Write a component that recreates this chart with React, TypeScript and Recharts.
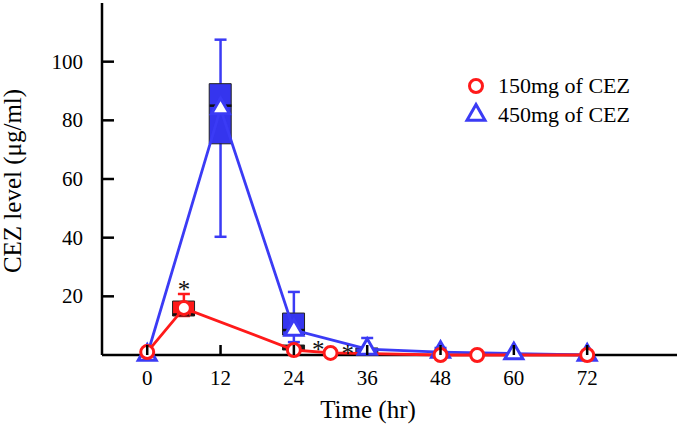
import {
  ComposedChart,
  Line,
  Bar,
  Cell,
  Scatter,
  ErrorBar,
  XAxis,
  YAxis,
  Legend,
  Symbols,
} from "recharts";

// 150mg of CEZ (red)
const redTimes = [0, 6, 24, 30, 48, 54, 72];
const redMean = [1, 16, 1.7, 0.7, 0, 0, 0];
const redBoxTimes = [6, 24];
const redBoxLow = [13.3, 1.7];
const redBoxHigh = [18.4, 3.4];
const redWhiskerTimes = [6];
const redWhiskerLow = [13.3];
const redWhiskerHigh = [20.8];
const redMedianTimes = [6];
const redMedian = [13.8];

// 450mg of CEZ (blue)
const blueTimes = [0, 12, 24, 36, 48, 60, 72];
const blueMean = [0, 84, 8.5, 2, 1, 0.5, 0];
const blueBoxTimes = [12, 24, 36];
const blueBoxLow = [72, 6.8, 0.7];
const blueBoxHigh = [92.5, 14.3, 2.4];
const blueWhiskerTimes = [12, 24, 36, 48];
const blueWhiskerLow = [40.3, 4.4, 0.7, 1];
const blueWhiskerHigh = [107.5, 21.5, 5.8, 2.4];
const blueMedianTimes = [12, 24];
const blueMedian = [85, 8.5];

// significance marks
const starTimes = [6, 28, 32.8];
const starValues = [24, 3.4, 2];

const xTicks = [0, 12, 24, 36, 48, 60, 72];
const yTicks = [20, 40, 60, 80, 100];
const seriesNames = ["150mg of CEZ", "450mg of CEZ"];

const RED = "#ff1a1a";
const BLUE = "#3b3bf5";
const BOX_BLUE = "#3535ee";
const FONT = "'Liberation Serif', 'Times New Roman', serif";
const xDomain = [-7.4, 86.7];

const allTimes = Array.from(new Set([...redTimes, ...blueTimes])).sort(
  (a, b) => a - b
);

const rows = allTimes.map((t) => {
  const ri = redTimes.indexOf(t);
  const bi = blueTimes.indexOf(t);
  const rb = redBoxTimes.indexOf(t);
  const bb = blueBoxTimes.indexOf(t);
  const rw = redWhiskerTimes.indexOf(t);
  const bw = blueWhiskerTimes.indexOf(t);
  const red = ri >= 0 ? redMean[ri] : null;
  const blue = bi >= 0 ? blueMean[bi] : null;
  return {
    t,
    red,
    blue,
    redBox: rb >= 0 ? [redBoxLow[rb], redBoxHigh[rb]] : undefined,
    blueBox: bb >= 0 ? [blueBoxLow[bb], blueBoxHigh[bb]] : undefined,
    redErr:
      rw >= 0 && red != null
        ? [red - redWhiskerLow[rw], redWhiskerHigh[rw] - red]
        : undefined,
    blueErr:
      bw >= 0 && blue != null
        ? [blue - blueWhiskerLow[bw], blueWhiskerHigh[bw] - blue]
        : undefined,
  };
});

const redMedianData = redMedianTimes.map((t, i) => ({ t, v: redMedian[i] }));
const blueMedianData = blueMedianTimes.map((t, i) => ({ t, v: blueMedian[i] }));
const starData = starTimes.map((t, i) => ({ t, v: starValues[i] }));

const RedDot = (p: any) => {
  if (p.cy == null || p.value == null) return <g key={p.key ?? p.index} />;
  return (
    <circle
      key={p.key ?? p.index}
      cx={p.cx}
      cy={p.cy}
      r={6.5}
      fill="#fff"
      stroke={RED}
      strokeWidth={3}
    />
  );
};

const BlueDot = (p: any) => {
  if (p.cy == null || p.value == null) return <g key={p.key ?? p.index} />;
  return (
    <Symbols
      key={p.key ?? p.index}
      cx={p.cx}
      cy={p.cy}
      type="triangle"
      size={140}
      fill="#fff"
      stroke={BLUE}
      strokeWidth={3}
    />
  );
};

const medianShape = (dashed: boolean) => (p: any) =>
  (
    <line
      x1={p.cx - 11}
      x2={p.cx + 11}
      y1={p.cy}
      y2={p.cy}
      stroke="#111"
      strokeWidth={2.5}
      strokeDasharray={dashed ? "4 2" : undefined}
    />
  );

const starShape = (p: any) => (
  <text
    x={p.cx}
    y={p.cy + 13}
    textAnchor="middle"
    fontSize={25}
    fontFamily={FONT}
    fill="#111"
  >
    *
  </text>
);

const XTick = (p: any) => (
  <g>
    <line x1={p.x} y1={p.y} x2={p.x} y2={p.y - 10} stroke="#000" strokeWidth={2.5} />
    <text
      x={p.x}
      y={p.y + 30}
      textAnchor="middle"
      fontSize={21}
      fontFamily={FONT}
      fill="#000"
    >
      {p.payload.value}
    </text>
  </g>
);

const YTick = (p: any) => (
  <g>
    <line x1={p.x} y1={p.y} x2={p.x + 12} y2={p.y} stroke="#000" strokeWidth={2.5} />
    <text
      x={p.x - 19}
      y={p.y + 7}
      textAnchor="end"
      fontSize={21}
      fontFamily={FONT}
      fill="#000"
    >
      {p.payload.value}
    </text>
  </g>
);

const LegendBox = () => (
  <svg width={200} height={60} style={{ display: "block" }}>
    <circle cx={14} cy={14} r={6.5} fill="#fff" stroke={RED} strokeWidth={3} />
    <text x={36} y={21} fontSize={22} fontFamily={FONT} fill="#000">
      {seriesNames[0]}
    </text>
    <Symbols
      cx={14}
      cy={43}
      type="triangle"
      size={140}
      fill="#fff"
      stroke={BLUE}
      strokeWidth={3}
    />
    <text x={36} y={50} fontSize={22} fontFamily={FONT} fill="#000">
      {seriesNames[1]}
    </text>
  </svg>
);

export default function App() {
  return (
    <div style={{ position: "absolute", left: 0, top: 0, background: "#fff" }}>
      <ComposedChart
        width={677}
        height={434}
        data={rows}
        margin={{ top: 3, right: 0, bottom: 0, left: 0 }}
      >
        <XAxis
          dataKey="t"
          type="number"
          domain={xDomain}
          ticks={xTicks}
          interval={0}
          allowDataOverflow
          height={79}
          axisLine={{ stroke: "#000", strokeWidth: 2.5 }}
          tickLine={false}
          tickSize={0}
          tickMargin={0}
          tick={XTick}
          label={{
            content: (props: any) => {
              const vb = props.viewBox;
              return (
                <text
                  x={368}
                  y={vb.y + 63}
                  textAnchor="middle"
                  fontSize={25}
                  fontFamily={FONT}
                  fill="#000"
                >
                  Time (hr)
                </text>
              );
            },
          }}
        />
        <XAxis xAxisId="bb" dataKey="t" type="number" domain={xDomain} allowDataOverflow hide />
        <XAxis xAxisId="rb" dataKey="t" type="number" domain={xDomain} allowDataOverflow hide />
        <YAxis
          type="number"
          domain={[0, 120]}
          ticks={yTicks}
          interval={0}
          width={102}
          axisLine={{ stroke: "#000", strokeWidth: 2.5 }}
          tickLine={false}
          tickSize={0}
          tickMargin={0}
          tick={YTick}
          label={{
            content: (props: any) => {
              const vb = props.viewBox;
              const cx = vb.x + 21;
              const cy = vb.y + vb.height / 2 + 2;
              return (
                <text
                  transform={`translate(${cx}, ${cy}) rotate(-90)`}
                  textAnchor="middle"
                  fontSize={25}
                  fontFamily={FONT}
                  fill="#000"
                >
                  CEZ level (μg/ml)
                </text>
              );
            },
          }}
        />
        <Legend
          layout="vertical"
          align="center"
          verticalAlign="middle"
          wrapperStyle={{ top: 72, left: 462, width: 200 }}
          content={LegendBox}
        />
        <Bar
          xAxisId="bb"
          dataKey="blueBox"
          barSize={22}
          fill={BOX_BLUE}
          stroke="#222"
          strokeWidth={1}
          isAnimationActive={false}
          zIndex={510}
        />
        <Bar
          xAxisId="rb"
          dataKey="redBox"
          barSize={22}
          stroke="#222"
          strokeWidth={1}
          isAnimationActive={false}
          zIndex={511}
        >
          {rows.map((r, i) => (
            <Cell key={i} fill={r.t === 24 ? "#1a1a1a" : RED} />
          ))}
        </Bar>
        <Line
          dataKey="blue"
          stroke={BLUE}
          strokeWidth={2.8}
          connectNulls
          dot={BlueDot}
          activeDot={false}
          isAnimationActive={false}
          zIndex={530}
        >
          <ErrorBar dataKey="blueErr" width={6} stroke={BLUE} strokeWidth={2.5} direction="y" />
        </Line>
        <Scatter
          data={blueMedianData}
          dataKey="v"
          shape={medianShape(false)}
          isAnimationActive={false}
          zIndex={520}
        />
        <Scatter
          data={redMedianData}
          dataKey="v"
          shape={medianShape(true)}
          isAnimationActive={false}
          zIndex={521}
        />
        <Line
          dataKey="red"
          stroke={RED}
          strokeWidth={2.8}
          connectNulls
          dot={RedDot}
          activeDot={false}
          isAnimationActive={false}
          zIndex={540}
        >
          <ErrorBar dataKey="redErr" width={6} stroke={RED} strokeWidth={2.5} direction="y" />
        </Line>
        <Scatter
          data={starData}
          dataKey="v"
          shape={starShape}
          isAnimationActive={false}
          zIndex={550}
        />
      </ComposedChart>
    </div>
  );
}
